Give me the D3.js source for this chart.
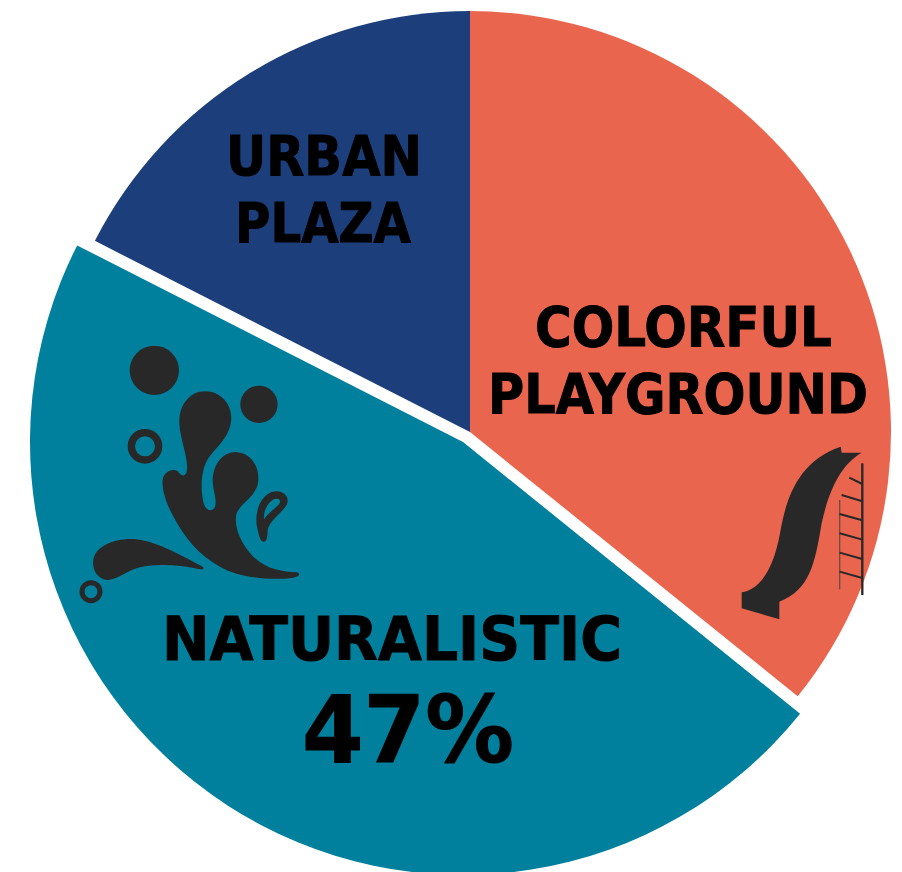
<!DOCTYPE html>
<html>
<head>
<meta charset="utf-8">
<script src="https://cdn.jsdelivr.net/npm/d3@7"></script>
<style>
html, body { margin: 0; padding: 0; background: #fff; overflow: hidden; }
</style>
</head>
<body>
<svg id="chart" width="902" height="872"></svg>
<script>
// shares, clockwise from 12 o'clock
const categories = ["Colorful playground", "Naturalistic", "Urban plaza"];
const shares = [35.8, 46.7, 17.5];
const colors = ["#ea654e", "#00809c", "#1c3f7c"];

const svg = d3.select("#chart");
const width = 902, height = 872;

const cx = 470, cy = 432, radius = 421;
// only the naturalistic slice is pulled out and it is drawn a bit bigger
const pulled = { Naturalistic: { dx: -7, dy: 10, r: 433 } };

const pie = d3.pie().sort(null).value((d, i) => shares[i]);
const arcs = pie(categories);

svg.append("g")
    .selectAll("path")
    .data(arcs)
    .join("path")
    .attr("transform", d => {
        const p = pulled[d.data];
        return p ? `translate(${cx + p.dx},${cy + p.dy})` : `translate(${cx},${cy})`;
    })
    .attr("fill", (d, i) => colors[i])
    .attr("d", d => {
        const p = pulled[d.data];
        return d3.arc().innerRadius(0).outerRadius(p ? p.r : radius)(d);
    });

// splash icon, traced in a 3x grid
const ink = "#282828";
const splash = svg.append("g")
    .attr("transform", "translate(60,330) scale(0.3333)")
    .attr("fill", ink);

splash.append("circle").attr("cx", 283).attr("cy", 121).attr("r", 74);
splash.append("circle").attr("cx", 597).attr("cy", 223).attr("r", 56);
splash.append("circle").attr("cx", 255).attr("cy", 349).attr("r", 41)
    .attr("fill", "none").attr("stroke", ink).attr("stroke-width", 22);
splash.append("circle").attr("cx", 93).attr("cy", 785).attr("r", 27)
    .attr("fill", "none").attr("stroke", ink).attr("stroke-width", 15);
splash.append("path").attr("d", "M435,184C485,184 515,225 514,265C512,320 470,350 445,385C425,415 420,470 430,515C435,540 455,550 465,530C472,510 458,480 458,450C460,400 490,366 527,366C570,368 597,405 595,450C592,500 545,515 530,550C520,585 540,640 580,680C620,720 670,725 710,727C722,730 720,740 700,743C640,752 540,745 480,710C420,680 370,620 335,550C320,520 305,480 308,450C310,425 340,412 355,425C365,440 375,440 380,425C388,390 360,330 358,280C356,225 390,184 435,184Z");
splash.append("path").attr("d", "M100,690C105,650 160,625 220,627C290,632 370,680 428,710C435,718 425,720 415,717C360,705 290,700 240,712C200,722 175,748 145,750C115,750 95,720 100,690Z");
splash.append("path").attr("fill-rule", "evenodd").attr("d", "M650,484C675,484 690,505 680,525C665,550 630,570 623,600C622,620 622,635 610,635C600,635 595,610 590,585C585,545 600,510 620,495C630,487 640,484 650,484ZM650,506C660,505 665,515 655,525C640,540 625,550 612,568C610,545 622,520 635,512C640,508 645,506 650,506Z");

// slide icon
const slide = svg.append("g")
    .attr("transform", "translate(720,430) scale(0.3333)")
    .attr("fill", ink);

slide.append("path").attr("d", "M362,50L365,68L425,68C370,100 330,165 305,280C285,400 270,480 178,515L178,568L65,535L65,487C120,478 160,420 180,310C195,225 225,95 362,50Z");

const rungs = [[388, 143], [365, 195], [359, 252], [359, 310], [359, 368], [359, 425]];
slide.append("line").attr("x1", 427).attr("x2", 427).attr("y1", 100).attr("y2", 495)
    .attr("stroke", ink).attr("stroke-width", 7);
slide.append("line").attr("x1", 359).attr("x2", 359).attr("y1", 210).attr("y2", 478)
    .attr("stroke", "#6d4a44").attr("stroke-width", 4);
slide.selectAll(".rung")
    .data(rungs)
    .join("line")
    .attr("class", "rung")
    .attr("x1", d => d[0])
    .attr("y1", d => d[1])
    .attr("x2", 427)
    .attr("y2", d => d[1] + 19)
    .attr("stroke", ink)
    .attr("stroke-width", 6);

// labels: [text, left, right, baseline, font size]
const labels = [
    ["URBAN", 226, 422, 175, 55],
    ["PLAZA", 235, 411, 242, 55],
    ["COLORFUL", 535, 832, 346, 56],
    ["PLAYGROUND", 488, 868, 413, 56],
    ["NATURALISTIC", 162, 622, 660, 60],
    ["47%", 302, 514, 762, 92]
];

// squeeze each label sideways to the width it has in the picture
svg.append("g")
    .attr("font-family", "'DejaVu Sans', sans-serif")
    .attr("font-weight", "bold")
    .attr("fill", "#000")
    .attr("stroke", "#000")
    .attr("stroke-width", 1)
    .selectAll("text")
    .data(labels)
    .join("text")
    .attr("font-size", d => d[4])
    .text(d => d[0])
    .attr("transform", function(d) {
        const natural = this.getComputedTextLength();
        return `translate(${d[1]},${d[3]}) scale(${(d[2] - d[1]) / natural},1)`;
    });
</script>
</body>
</html>
